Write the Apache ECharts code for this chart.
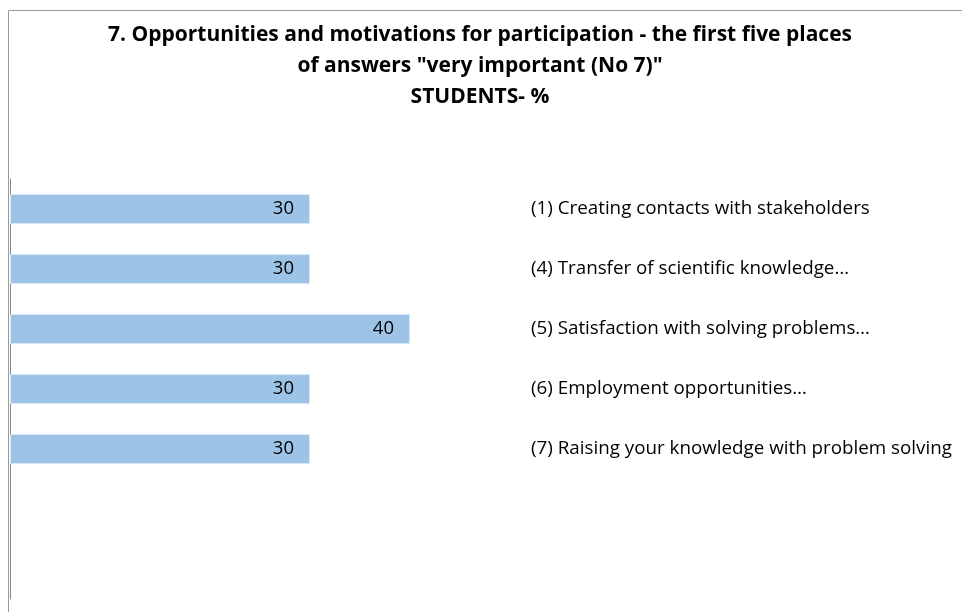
<!DOCTYPE html>
<html>
<head>
<meta charset="utf-8">
<title>Opportunities and motivations for participation</title>
<script src="https://cdn.jsdelivr.net/npm/echarts@6/dist/echarts.min.js"></script>
<style>
  html, body { margin: 0; padding: 0; background: #ffffff; }
  #chart { width: 962px; height: 612px; }
</style>
</head>
<body>
<div id="chart"></div>
<script>
// Answers ranked in the first five places; the two trailing rows are empty slots on the axis
const categories = [
  '(1) Creating contacts with stakeholders',
  '(4) Transfer of scientific knowledge…',
  '(5) Satisfaction with solving problems…',
  '(6) Employment opportunities…',
  '(7) Raising your knowledge with problem solving',
  '',
  ''
];
const percentValues = [30, 30, 40, 30, 30, null, null];
const titleLines = [
  '7. Opportunities and motivations for participation - the first five places',
  'of answers "very important (No 7)"',
  'STUDENTS- %'
];

const FONT = '"Open Sans", Lato, sans-serif';
const chart = echarts.init(document.getElementById('chart'), null, { renderer: 'canvas' });

chart.setOption({
  backgroundColor: '#ffffff',
  animation: false,
  title: {
    text: titleLines.join('\n'),
    left: 475,
    textAlign: 'center',
    top: 14,
    textStyle: {
      fontFamily: FONT,
      fontWeight: 'bold',
      fontSize: 21,
      lineHeight: 31.4,
      color: '#000000'
    }
  },
  graphic: [
    // chart frame: top and left edges
    {
      type: 'polyline',
      shape: { points: [[8.5, 612], [8.5, 10.5], [962, 10.5]] },
      style: { stroke: '#999999', lineWidth: 1, fill: null },
      z: 0
    }
  ],
  grid: { left: 10, top: 179, width: 500, height: 420, containLabel: false },
  xAxis: {
    type: 'value',
    min: 0,
    max: 50,
    show: false
  },
  yAxis: [
    {
      type: 'category',
      data: categories,
      inverse: true,
      position: 'left',
      axisLine: { show: true, lineStyle: { color: '#868686', width: 1 } },
      axisTick: { show: false },
      axisLabel: { show: false },
      splitLine: { show: false }
    },
    {
      type: 'category',
      data: categories,
      inverse: true,
      position: 'right',
      axisLine: { show: false },
      axisTick: { show: false },
      splitLine: { show: false },
      axisLabel: {
        show: true,
        inside: false,
        margin: 21,
        align: 'left',
        fontFamily: FONT,
        fontSize: 18.8,
        color: '#000000'
      }
    }
  ],
  series: [
    {
      type: 'bar',
      yAxisIndex: 0,
      data: percentValues,
      barWidth: 30,
      itemStyle: {
        color: '#9dc3e6',
        borderColor: '#d6e6f5',
        borderWidth: 1
      },
      label: {
        show: true,
        position: 'insideRight',
        distance: 16,
        fontFamily: FONT,
        fontSize: 18.5,
        color: '#000000'
      }
    }
  ]
});
</script>
</body>
</html>
